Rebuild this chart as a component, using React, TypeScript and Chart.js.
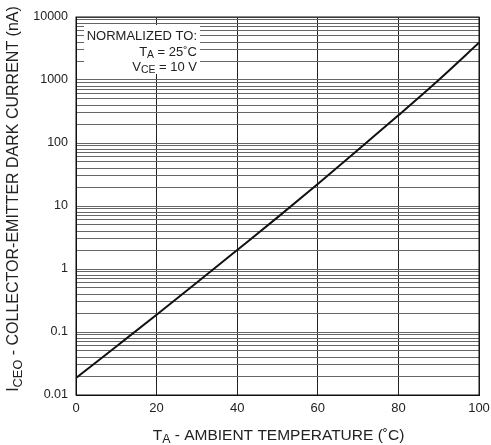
import React, { useEffect, useRef } from "react";
import { Chart, registerables } from "chart.js";

Chart.register(...registerables);

const temps = [0, 10, 20, 30, 40, 50, 60, 70, 80, 90, 100];
const darkCurrent = [0.0186, 0.059, 0.188, 0.61, 2.0, 6.6, 22.4, 78, 275, 1000, 3900];

const yDecades = [0.01, 0.1, 1, 10, 100, 1000, 10000];
const yTickLabels = ["0.01", "0.1", "1", "10", "100", "1000", "10000"];
const minorMultipliers = [2, 3, 4, 5, 6, 7, 8, 9];
const xTicks = [0, 20, 40, 60, 80, 100];

const FONT = "'Liberation Sans', Arial, Helvetica, sans-serif";

type Part = { t: string; sub?: boolean };

function partsWidth(ctx: CanvasRenderingContext2D, parts: Part[], size: number) {
  let w = 0;
  for (const p of parts) {
    ctx.font = `${p.sub ? size * 0.8 : size}px ${FONT}`;
    w += ctx.measureText(p.t).width;
  }
  return w;
}

function drawParts(ctx: CanvasRenderingContext2D, parts: Part[], x: number, y: number, size: number) {
  ctx.textBaseline = "middle";
  ctx.textAlign = "left";
  let cx = x;
  for (const p of parts) {
    ctx.font = `${p.sub ? size * 0.8 : size}px ${FONT}`;
    ctx.fillText(p.t, cx, p.sub ? y + size * 0.25 : y);
    cx += ctx.measureText(p.t).width;
  }
}

const annotationPlugin = {
  id: "annot",
  afterDraw(chart: any) {
    const ctx: CanvasRenderingContext2D = chart.ctx;
    const a = chart.chartArea;
    ctx.save();
    ctx.strokeStyle = "#111";
    ctx.lineWidth = 1;
    ctx.strokeRect(a.left, a.top, a.right - a.left, a.bottom - a.top);

    // normalized box
    ctx.fillStyle = "#fff";
    ctx.fillRect(a.left + 8, a.top + 8, 116, 49);
    ctx.fillStyle = "#222";
    const rx = a.left + 121;
    const size = 13;
    const lines: Part[][] = [
      [{ t: "NORMALIZED TO:" }],
      [{ t: "T" }, { t: "A", sub: true }, { t: " = 25˚C" }],
      [{ t: "V" }, { t: "CE", sub: true }, { t: " = 10 V" }],
    ];
    const ys = [a.top + 19, a.top + 35, a.top + 50];
    lines.forEach((ln, i) => {
      const w = partsWidth(ctx, ln, size);
      drawParts(ctx, ln, rx - w, ys[i], size);
    });

    // x title
    const xt: Part[] = [{ t: "T" }, { t: "A", sub: true }, { t: " - AMBIENT TEMPERATURE (˚C)" }];
    const xsize = 15.5;
    const xw = partsWidth(ctx, xt, xsize);
    drawParts(ctx, xt, (a.left + a.right) / 2 - xw / 2 + 1, 436, xsize);

    // y title
    const yt: Part[] = [{ t: "I" }, { t: "CEO", sub: true }, { t: " - COLLECTOR-EMITTER DARK CURRENT (nA)" }];
    const ysize = 16;
    const yw = partsWidth(ctx, yt, ysize);
    ctx.translate(14, 199);
    ctx.rotate(-Math.PI / 2);
    drawParts(ctx, yt, -yw / 2, 0, ysize);
    ctx.restore();
  },
};

export default function App() {
  const ref = useRef<HTMLCanvasElement>(null);
  useEffect(() => {
    document.body.style.margin = "0";
    const gridValues: number[] = [];
    yDecades.forEach((d, i) => {
      gridValues.push(d);
      if (i < yDecades.length - 1) minorMultipliers.forEach((m) => gridValues.push(d * m));
    });
    const chart = new Chart(ref.current!, {
      type: "line",
      data: {
        datasets: [
          {
            data: temps.map((t, i) => ({ x: t, y: darkCurrent[i] })),
            borderColor: "#111",
            borderWidth: 2,
            pointRadius: 0,
            cubicInterpolationMode: "monotone",
            fill: false,
          },
        ],
      },
      options: {
        animation: false,
        responsive: false,
        layout: { padding: { left: 0, top: 17, right: 12, bottom: 0 } },
        plugins: { legend: { display: false }, tooltip: { enabled: false } },
        scales: {
          x: {
            type: "linear",
            min: 0,
            max: 100,
            afterBuildTicks: (scale: any) => {
              scale.ticks = xTicks.map((v) => ({ value: v }));
            },
            afterFit: (scale: any) => {
              scale.height = 50;
              scale.paddingLeft = 0;
              scale.paddingRight = 0;
            },
            ticks: {
              padding: 6,
              color: "#222",
              font: { family: FONT, size: 13 },
              maxRotation: 0,
              autoSkip: false,
            },
            grid: { color: "#222", lineWidth: 1, drawTicks: false },
            border: { color: "#111" },
          },
          y: {
            type: "logarithmic",
            min: 0.01,
            max: 10000,
            afterBuildTicks: (scale: any) => {
              scale.ticks = gridValues.map((v) => ({ value: v }));
            },
            afterFit: (scale: any) => {
              scale.width = 76;
              scale.paddingTop = 0;
              scale.paddingBottom = 0;
            },
            ticks: {
              padding: 8,
              color: "#222",
              autoSkip: false,
              font: { family: FONT, size: 12.5 },
              callback: (value: any) => {
                const i = yDecades.indexOf(Number(value));
                return i >= 0 ? yTickLabels[i] : "";
              },
            },
            grid: { color: "#666", lineWidth: 1, drawTicks: false },
            border: { color: "#111" },
          },
        },
      } as any,
      plugins: [annotationPlugin],
    });
    return () => chart.destroy();
  }, []);
  return (
    <div style={{ width: 491, height: 445, background: "#fff" }}>
      <canvas ref={ref} width={491} height={445} />
    </div>
  );
}
